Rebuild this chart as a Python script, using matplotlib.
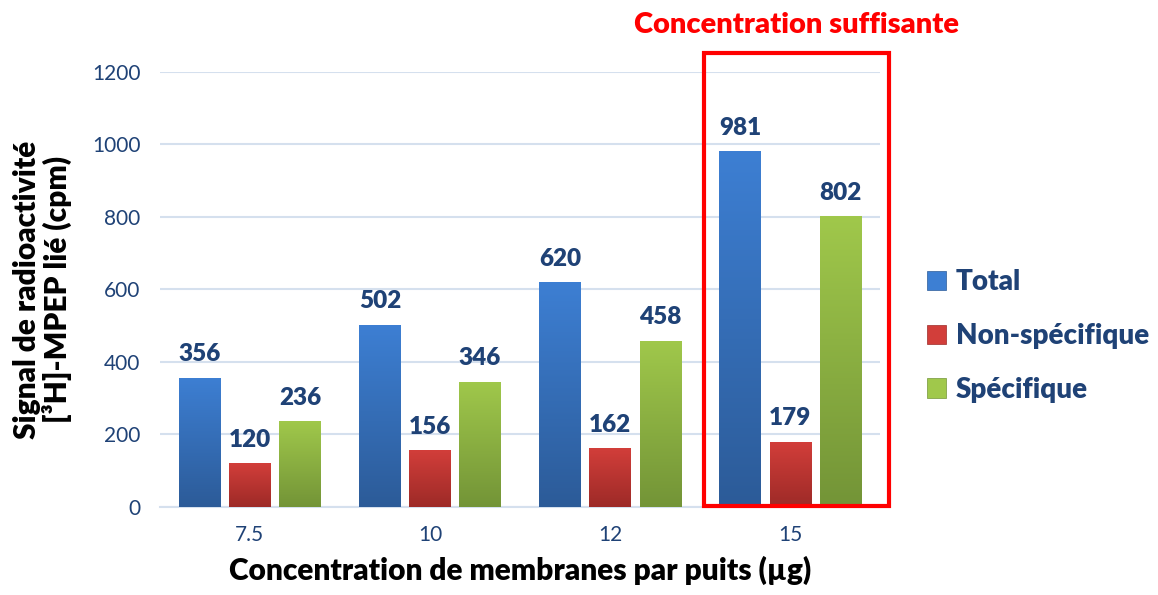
import numpy as np
import matplotlib.pyplot as plt
from matplotlib.colors import LinearSegmentedColormap
from matplotlib.patches import Rectangle, Patch

plt.rcParams['font.family'] = ['Lato', 'DejaVu Sans']

concentrations = ["7.5", "10", "12", "15"]
total = [356, 502, 620, 981]
non_specifique = [120, 156, 162, 179]
specifique = [236, 346, 458, 802]

series = [
    ("Total", total, "#3d7fd3", "#2c5b98"),
    ("Non-spécifique", non_specifique, "#d23e3a", "#9d2a27"),
    ("Spécifique", specifique, "#a0c84b", "#739437"),
]

label_color = "#1f4276"
grid_color = "#d5e0ee"


def gradient_bar(ax, bar, top_col, bottom_col):
    x0, y0 = bar.get_x(), bar.get_y()
    w, h = bar.get_width(), bar.get_height()
    cmap = LinearSegmentedColormap.from_list("g", [bottom_col, top_col])
    grad = np.linspace(0, 1, 256).reshape(-1, 1)
    im = ax.imshow(grad, cmap=cmap, aspect="auto", origin="lower",
                   extent=[x0, x0 + w, y0, y0 + h], zorder=3)
    im.set_clip_path(bar)
    bar.set_facecolor("none")


fig = plt.figure(figsize=(11.58, 5.95), dpi=100)
ax = fig.add_axes([0.138, 0.148, 0.622, 0.731])

x = np.arange(len(concentrations))
width = 0.228
offsets = [-0.278, 0.0, 0.278]

handles = []
for (name, vals, c_top, c_bot), off in zip(series, offsets):
    bars = ax.bar(x + off, vals, width, zorder=3, linewidth=0)
    for b, v in zip(bars, vals):
        gradient_bar(ax, b, c_top, c_bot)
        ax.text(b.get_x() + b.get_width() / 2, v + 35, str(v),
                ha="center", va="bottom", fontsize=17.5, fontweight="heavy",
                color=label_color, zorder=5)
    handles.append(Patch(facecolor=c_top, edgecolor=c_bot, linewidth=0.5, label=name))

ax.set_xlim(-0.5, len(concentrations) - 0.5)
ax.set_ylim(0, 1200)
ax.set_yticks(range(0, 1201, 200))
ax.set_xticks(x)
ax.set_xticklabels(concentrations)
ax.tick_params(axis="both", length=0, labelsize=15, labelcolor=label_color)
ax.tick_params(axis="y", pad=14)
ax.tick_params(axis="x", pad=13)
ax.yaxis.grid(True, color=grid_color, linewidth=1.5, zorder=0)
ax.set_axisbelow(True)
for s in ["top", "right", "left"]:
    ax.spines[s].set_visible(False)
ax.spines["bottom"].set_color(grid_color)
ax.spines["bottom"].set_linewidth(1.5)

ax.set_xlabel("Concentration de membranes par puits (µg)", fontsize=21.5,
              fontweight="heavy", labelpad=8)
ax.set_ylabel("Signal de radioactivité\n[³H]-MPEP lié (cpm)", fontsize=21.5,
              fontweight="heavy", labelpad=14, linespacing=1.05)

# highlight box around the last concentration
box = Rectangle((2.522, 3), 1.03, 1249, fill=False, edgecolor="#ff0000",
                linewidth=3, clip_on=False, zorder=6)
ax.add_patch(box)
ax.text(3.036, 1330, "Concentration suffisante", ha="center", va="center",
        fontsize=21, fontweight="heavy", color="#ff0000", clip_on=False)

leg = ax.legend(handles=handles, loc="center left", bbox_to_anchor=(1.03, 0.393),
                frameon=False, fontsize=20, handlelength=0.7, handleheight=0.7,
                handletextpad=0.35, labelspacing=1.0)
for t in leg.get_texts():
    t.set_color(label_color)
    t.set_fontweight("heavy")

fig.savefig("out.png", dpi=100)
